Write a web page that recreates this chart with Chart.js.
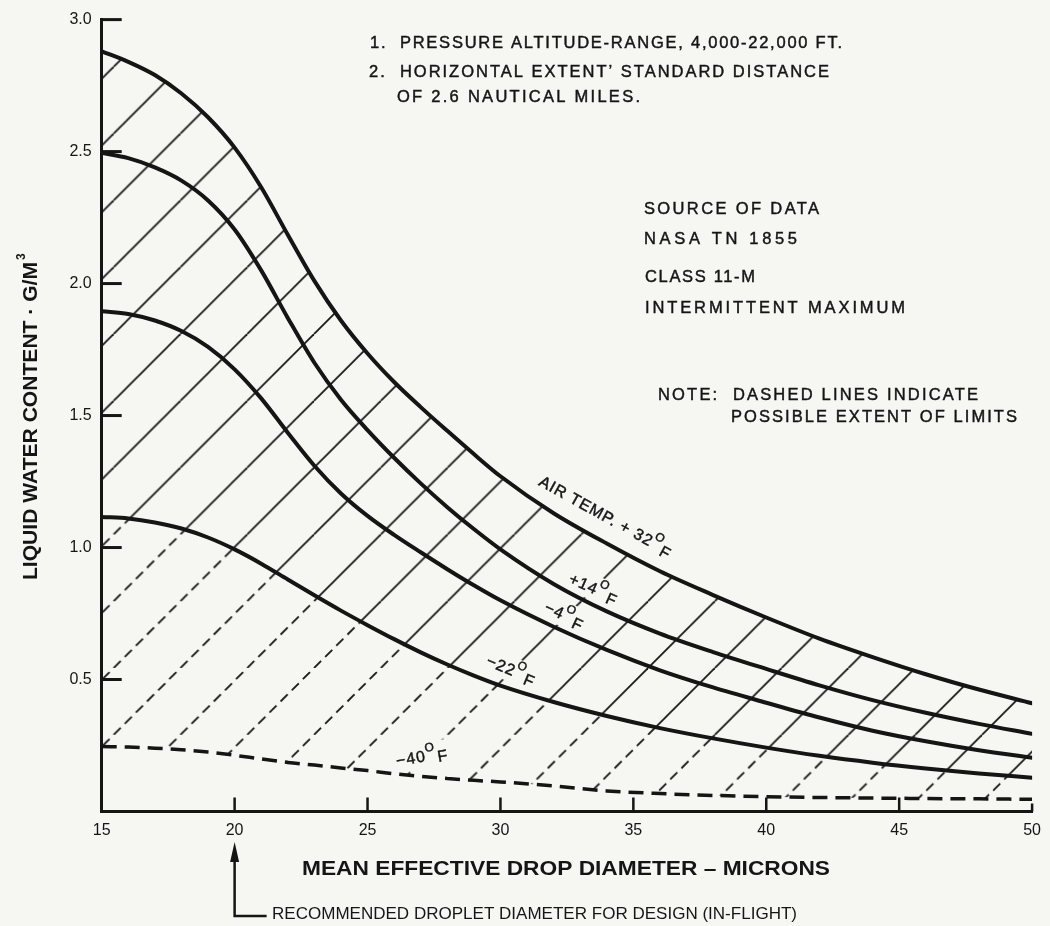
<!DOCTYPE html>
<html>
<head>
<meta charset="utf-8">
<script src="https://cdn.jsdelivr.net/npm/chart.js@4"></script>
<style>
html, body { margin: 0; padding: 0; background: #f6f6f3; }
#wrap { width: 1050px; height: 926px; }
</style>
</head>
<body>
<div id="wrap"><canvas id="canvas-1" width="1050" height="926"></canvas></div>
<script>
/* global Chart */

// mean effective drop diameter (microns)
var diameters = [15, 16, 17, 18, 19, 20, 21, 22, 23, 24, 25, 26, 27, 28, 29, 30, 32, 34, 36, 38, 40, 42, 44, 46, 48, 50];

// liquid water content (g/m3) for each air temperature
var temp32 = [2.88, 2.84, 2.79, 2.72, 2.63, 2.515, 2.365, 2.185, 2.01, 1.86, 1.735, 1.627, 1.532, 1.442, 1.354, 1.27, 1.13, 1.015, 0.91, 0.82, 0.735, 0.655, 0.585, 0.52, 0.462, 0.41];
var temp14 = [2.495, 2.475, 2.44, 2.39, 2.315, 2.205, 2.05, 1.87, 1.7, 1.56, 1.445, 1.34, 1.243, 1.153, 1.07, 0.993, 0.862, 0.758, 0.674, 0.604, 0.54, 0.478, 0.422, 0.374, 0.332, 0.294];
var tempM4 = [1.895, 1.885, 1.86, 1.82, 1.76, 1.675, 1.565, 1.435, 1.31, 1.205, 1.12, 1.048, 0.982, 0.918, 0.857, 0.8, 0.7, 0.612, 0.535, 0.47, 0.412, 0.356, 0.306, 0.266, 0.232, 0.204];
var tempM22 = [1.116, 1.11, 1.095, 1.072, 1.038, 0.993, 0.939, 0.879, 0.819, 0.761, 0.706, 0.653, 0.603, 0.557, 0.515, 0.477, 0.415, 0.362, 0.316, 0.277, 0.242, 0.211, 0.185, 0.163, 0.144, 0.128];
var tempM40 = [0.246, 0.244, 0.24, 0.234, 0.225, 0.213, 0.199, 0.186, 0.176, 0.165, 0.155, 0.143, 0.133, 0.125, 0.118, 0.112, 0.097, 0.078, 0.068, 0.061, 0.056, 0.053, 0.051, 0.049, 0.048, 0.046];

var xTicks = [15, 20, 25, 30, 35, 40, 45, 50];
var yTicks = [0, 0.5, 1.0, 1.5, 2.0, 2.5, 3.0];

var ink = '#151515';
var paper = '#f6f6f3';
var FONT = '"Liberation Sans", Arial, sans-serif';

var pairs = function pairs(ys) {
    return diameters.map(function (d, i) {
        return { x: d, y: ys[i] };
    });
};

// diagonal hatching used as fill between the curves
function hatch(dashed) {
    var t = document.createElement('canvas');
    t.width = 67;
    t.height = 67;
    var c = t.getContext('2d');
    c.strokeStyle = ink;
    c.lineWidth = 1.8;
    if (dashed) {
        c.setLineDash([10, 67 * Math.SQRT2 / 6 - 10]);
    }
    [0, 67, 134].forEach(function (k) {
        c.beginPath();
        c.moveTo(k - 67, 67);
        c.lineTo(k, 0);
        c.stroke();
    });
    var p = c.createPattern(t, 'repeat');
    var s = 66.8 / 67;
    p.setTransform(new DOMMatrix([s, 0, 0, s, 46.8, 0]));
    return p;
}

function curve(label, ys, extra) {
    var ds = {
        label: label,
        data: pairs(ys),
        borderColor: ink,
        borderWidth: 4,
        pointRadius: 0,
        cubicInterpolationMode: 'monotone',
        borderCapStyle: 'round',
        fill: false
    };
    return Object.assign(ds, extra || {});
}

// curve labels: position in data units, rotation in degrees
var curveLabels = [
    { pre: 'AIR TEMP. + 32', x: 33.95, y: 1.115, angle: 29, box: false },
    { pre: '+14', x: 33.5, y: 0.842, angle: 24, box: true },
    { pre: '\u22124', x: 32.4, y: 0.741, angle: 25, box: true },
    { pre: '\u221222', x: 30.4, y: 0.533, angle: 23, box: true },
    { pre: '\u221240', x: 27.05, y: 0.205, angle: -10, box: true }
];

// fill plus a hairline stroke, closer to the heavy print of the original
function inkText(ctx, text, x, y) {
    ctx.fillText(text, x, y);
    ctx.lineWidth = 0.45;
    ctx.strokeStyle = ink;
    ctx.strokeText(text, x, y);
}

function fitText(ctx, text, x, y, width, font, align, squeeze) {
    ctx.save();
    ctx.font = font;
    ctx.textBaseline = 'middle';
    ctx.textAlign = 'left';
    ctx.fillStyle = ink;
    var w = ctx.measureText(text).width;
    var left = align === 'center' ? x - width / 2 : x;
    if (!squeeze && 'letterSpacing' in ctx && w < width) {
        ctx.letterSpacing = ((width - w) / (text.length - 1)) + 'px';
        inkText(ctx, text, left, y);
    } else {
        ctx.translate(left, y);
        ctx.scale(width / w, 1);
        ctx.fillText(text, 0, 0);
    }
    ctx.restore();
}

function labelGeometry(ctx, lab) {
    if ('letterSpacing' in ctx) ctx.letterSpacing = '1px';
    ctx.font = '16px ' + FONT;
    var w1 = ctx.measureText(lab.pre).width;
    var w3 = ctx.measureText('F').width;
    ctx.font = '12px ' + FONT;
    var w2 = ctx.measureText('O').width;
    return { w1: w1, w2: w2, w3: w3, total: w1 + w2 + w3 + 1 };
}

function withLabel(chart, lab, fn) {
    var ctx = chart.ctx;
    var px = chart.scales.x.getPixelForValue(lab.x);
    var py = chart.scales.y.getPixelForValue(lab.y);
    ctx.save();
    ctx.translate(px, py);
    ctx.rotate(lab.angle * Math.PI / 180);
    fn(ctx, labelGeometry(ctx, lab));
    ctx.restore();
}

var annotate = {
    id: 'annotate',
    beforeDatasetsDraw: function (chart) {
        // clear the hatching behind the curve labels
        curveLabels.forEach(function (lab) {
            if (!lab.box) return;
            withLabel(chart, lab, function (ctx, g) {
                ctx.fillStyle = paper;
                ctx.fillRect(-g.total / 2 - 4, -14, g.total + 8, 25);
            });
        });
    },
    afterDatasetsDraw: function (chart) {
        curveLabels.forEach(function (lab) {
            withLabel(chart, lab, function (ctx, g) {
                var x0 = -g.total / 2;
                ctx.fillStyle = ink;
                ctx.textBaseline = 'middle';
                ctx.font = '16px ' + FONT;
                inkText(ctx, lab.pre, x0, 0);
                ctx.font = '12px ' + FONT;
                inkText(ctx, 'O', x0 + g.w1, -8);
                ctx.font = '16px ' + FONT;
                inkText(ctx, 'F', x0 + g.w1 + g.w2 + 1, 3);
            });
        });
    },
    afterDraw: function (chart) {
        var ctx = chart.ctx;
        var area = chart.chartArea;
        var xs = chart.scales.x;
        var ys = chart.scales.y;

        // inward tick marks
        ctx.save();
        ctx.strokeStyle = ink;
        ctx.lineWidth = 3;
        yTicks.forEach(function (v) {
            if (v === 0) return;
            var py = ys.getPixelForValue(v);
            ctx.beginPath();
            ctx.moveTo(area.left, py);
            ctx.lineTo(area.left + 20, py);
            ctx.stroke();
        });
        ctx.lineWidth = 2.5;
        xTicks.forEach(function (v) {
            if (v === 15) return;
            var px = xs.getPixelForValue(v);
            ctx.beginPath();
            ctx.moveTo(px, area.bottom);
            ctx.lineTo(px, area.bottom - (v === 50 ? 8 : 14));
            ctx.stroke();
        });
        ctx.restore();

        // notes
        var reg = '16.5px ' + FONT;
        fitText(ctx, '1.  PRESSURE ALTITUDE-RANGE, 4,000-22,000 FT.', 370, 43, 472, reg);
        fitText(ctx, '2.  HORIZONTAL EXTENT\u2019 STANDARD DISTANCE', 369, 72, 460, reg);
        fitText(ctx, 'OF 2.6 NAUTICAL MILES.', 397, 97, 243, reg);
        fitText(ctx, 'SOURCE OF DATA', 644, 209, 175, reg);
        fitText(ctx, 'NASA TN 1855', 644, 239, 153, reg);
        fitText(ctx, 'CLASS 11-M', 645, 277, 110, reg);
        fitText(ctx, 'INTERMITTENT MAXIMUM', 645, 308, 260, reg);
        fitText(ctx, 'NOTE:  DASHED LINES INDICATE', 658, 395, 320, reg);
        fitText(ctx, 'POSSIBLE EXTENT OF LIMITS', 731, 417, 286, reg);

        // axis titles
        fitText(ctx, 'MEAN EFFECTIVE DROP DIAMETER \u2013 MICRONS', 566, 869, 528, 'bold 20px ' + FONT, 'center', true);
        ctx.save();
        ctx.translate(31, 415);
        ctx.rotate(-Math.PI / 2);
        fitText(ctx, 'LIQUID WATER CONTENT \u00b7 G/M', -165, 0, 318, 'bold 20px ' + FONT, 'left', true);
        ctx.font = 'bold 12px ' + FONT;
        ctx.fillStyle = ink;
        ctx.textBaseline = 'middle';
        ctx.fillText('3', 155, -9);
        ctx.restore();

        // recommended droplet diameter marker
        var ax = xs.getPixelForValue(20);
        ctx.save();
        ctx.strokeStyle = ink;
        ctx.fillStyle = ink;
        ctx.lineWidth = 2.5;
        ctx.beginPath();
        ctx.moveTo(ax, 856);
        ctx.lineTo(ax, 916);
        ctx.lineTo(ax + 32, 916);
        ctx.stroke();
        ctx.beginPath();
        ctx.moveTo(ax, 842);
        ctx.lineTo(ax - 4.5, 862);
        ctx.lineTo(ax + 4.5, 862);
        ctx.closePath();
        ctx.fill();
        ctx.restore();
        fitText(ctx, 'RECOMMENDED DROPLET DIAMETER FOR DESIGN (IN-FLIGHT)', 272, 914, 525, '16.5px ' + FONT, 'left', true);
    }
};

var iceChart = new Chart(document.getElementById('canvas-1'), {
    type: 'line',
    data: {
        datasets: [
            curve('+32\u00b0F', temp32, { fill: { target: 3 }, backgroundColor: hatch(false) }),
            curve('+14\u00b0F', temp14),
            curve('\u22124\u00b0F', tempM4),
            curve('\u221222\u00b0F', tempM22, { fill: { target: 4 }, backgroundColor: hatch(true) }),
            curve('\u221240\u00b0F', tempM40, { borderDash: [15, 8], borderWidth: 3.5, borderCapStyle: 'butt' })
        ]
    },
    options: {
        responsive: false,
        animation: false,
        layout: { padding: { left: 0, right: 15, top: 15.6, bottom: 0 } },
        plugins: {
            legend: { display: false },
            tooltip: { enabled: false },
            filler: { drawTime: 'beforeDatasetsDraw' }
        },
        scales: {
            x: {
                type: 'linear',
                min: 15,
                max: 50,
                afterBuildTicks: function (s) {
                    s.ticks = xTicks.map(function (v) { return { value: v }; });
                },
                afterFit: function (s) { s.height = 926 - 811.5; },
                grid: { display: false, drawTicks: false },
                border: { display: true, color: ink, width: 3 },
                ticks: {
                    color: ink,
                    padding: 9,
                    maxRotation: 0,
                    autoSkip: false,
                    font: { family: FONT, size: 16 }
                }
            },
            y: {
                type: 'linear',
                min: 0,
                max: 3,
                afterBuildTicks: function (s) {
                    s.ticks = yTicks.map(function (v) { return { value: v }; });
                },
                afterFit: function (s) { s.width = 101.7; },
                grid: { display: false, drawTicks: false },
                border: { display: true, color: ink, width: 3 },
                ticks: {
                    color: ink,
                    padding: 10,
                    font: { family: FONT, size: 16 },
                    callback: function (v) { return v === 0 ? '' : v.toFixed(1); }
                }
            }
        }
    },
    plugins: [annotate]
});
</script>
</body>
</html>
